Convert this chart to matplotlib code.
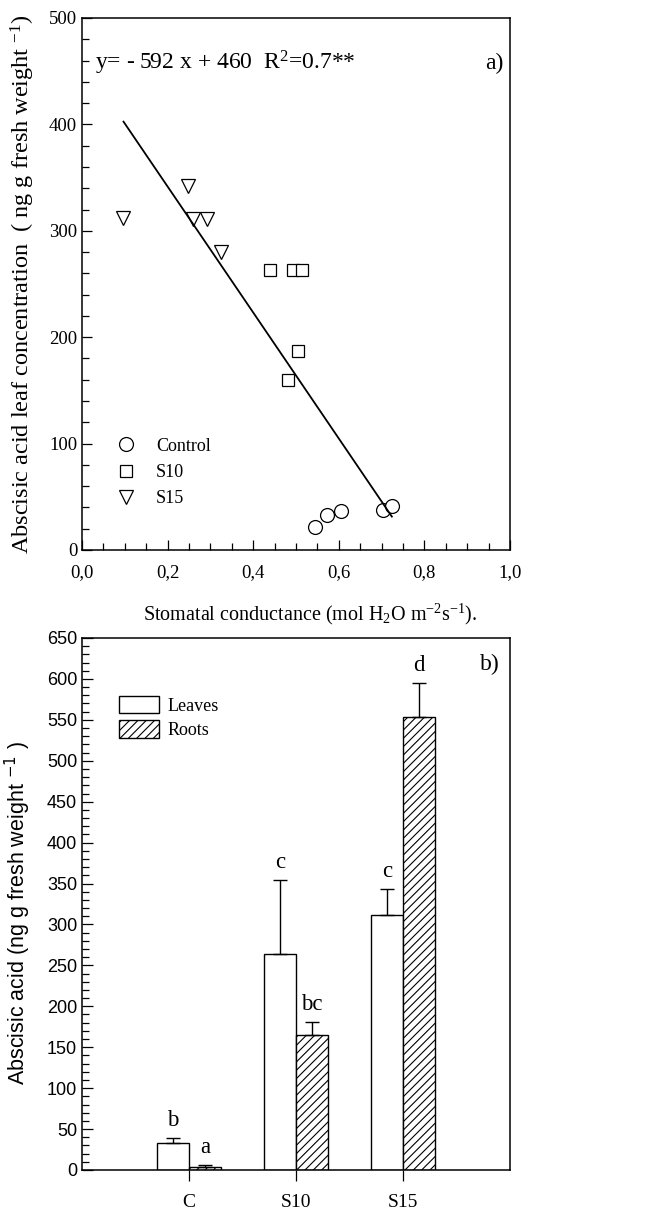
import numpy as np
import matplotlib
matplotlib.use("Agg")
import matplotlib.pyplot as plt
from matplotlib.ticker import MultipleLocator, FuncFormatter

# -----------------------------
# Data
# -----------------------------
# a) stomatal conductance vs leaf ABA
control_x = [0.544, 0.573, 0.604, 0.704, 0.725]
control_y = [22, 33, 37, 38, 41]
s10_x = [0.439, 0.492, 0.513, 0.505, 0.482]
s10_y = [263, 263, 263, 187, 160]
s15_x = [0.096, 0.247, 0.260, 0.291, 0.324]
s15_y = [312, 342, 311, 311, 280]

fit_slope = -592
fit_intercept = 460
fit_xrange = [0.097, 0.724]

# b) ABA in leaves and roots
groups = ["C", "S10", "S15"]
leaves_mean = [33, 264, 312]
leaves_err = [6, 90, 31]
roots_mean = [4, 165, 553]
roots_err = [2, 16, 42]
leaves_letters = ["b", "c", "c"]
roots_letters = ["a", "bc", "d"]

SERIF = "Liberation Serif"
SANS = "Liberation Sans"
plt.rcParams["mathtext.fontset"] = "custom"
plt.rcParams["mathtext.rm"] = SERIF
plt.rcParams["mathtext.it"] = SERIF + ":italic"
plt.rcParams["hatch.linewidth"] = 0.8

W, H = 651, 1210
fig = plt.figure(figsize=(W / 100, H / 100), dpi=100)


def box(l, t, r, b):
    return [l / W, 1 - b / H, (r - l) / W, (b - t) / H]


# -----------------------------
# Panel a
# -----------------------------
ax1 = fig.add_axes(box(82, 18, 510, 550))
mk = dict(linestyle="none", markerfacecolor="white", markeredgecolor="black",
          markeredgewidth=0.9)
ax1.plot(control_x, control_y, marker="o", markersize=10, label="Control", **mk)
ax1.plot(s10_x, s10_y, marker="s", markersize=9, label="S10", **mk)
ax1.plot(s15_x, s15_y, marker="v", markersize=10, label="S15", **mk)

fx = np.array(fit_xrange)
ax1.plot(fx, fit_slope * fx + fit_intercept, color="black", lw=1.3)

ax1.set_xlim(0, 1.0)
ax1.set_ylim(0, 500)
ax1.xaxis.set_major_locator(MultipleLocator(0.2))
ax1.xaxis.set_minor_locator(MultipleLocator(0.05))
ax1.yaxis.set_major_locator(MultipleLocator(100))
ax1.yaxis.set_minor_locator(MultipleLocator(20))
ax1.xaxis.set_major_formatter(FuncFormatter(lambda v, p: f"{v:.1f}".replace(".", ",")))
ax1.tick_params(which="both", direction="in", top=False, right=False, width=0.9)
ax1.tick_params(which="major", length=7)
ax1.tick_params(which="minor", length=5)
ax1.tick_params(axis="x", which="major", pad=10)
for lab in ax1.get_xticklabels() + ax1.get_yticklabels():
    lab.set_fontfamily(SERIF)
    lab.set_fontsize(13.5)
for s in ax1.spines.values():
    s.set_linewidth(1.1)

ax1.text(0.03, 0.915, "y= - 592 x + 460  R$^2$=0.7**", transform=ax1.transAxes,
         fontsize=17, family=SERIF, va="center", ha="left")
ax1.text(0.985, 0.915, "a)", transform=ax1.transAxes, fontsize=17, family=SERIF,
         va="center", ha="right")

ax1.legend(loc="center left", bbox_to_anchor=(0.05, 0.146), frameon=False,
           prop={"family": SERIF, "size": 13}, handlelength=1.5,
           handletextpad=0.9, labelspacing=0.5, borderpad=0)

fig.text(23 / W, 1 - 284 / H,
         "Abscisic acid leaf concentration  ( ng g fresh weight $^{-1}$)",
         rotation=90, ha="center", va="center", fontsize=17.5, family=SERIF)
fig.text(310 / W, 1 - 614 / H,
         "Stomatal conductance (mol H$_2$O m$^{-2}$s$^{-1}$).",
         ha="center", va="center", fontsize=14.5, family=SERIF)

# -----------------------------
# Panel b
# -----------------------------
ax2 = fig.add_axes(box(82, 638, 510, 1170))
xpos = np.arange(1, len(groups) + 1)
bw = 0.3
ek = dict(ecolor="black", elinewidth=1.0, capsize=5, capthick=1.0)
ax2.bar(xpos, leaves_mean, width=-bw, align="edge", color="white",
        edgecolor="black", linewidth=1.0, label="Leaves",
        yerr=[np.zeros(3), leaves_err], error_kw=ek)
ax2.bar(xpos, roots_mean, width=bw, align="edge", color="white",
        edgecolor="black", linewidth=1.0, hatch="////", label="Roots",
        yerr=[np.zeros(3), roots_err], error_kw=ek)

for i in range(len(groups)):
    ax2.annotate(leaves_letters[i], (xpos[i] - bw / 2, leaves_mean[i] + leaves_err[i]),
                 xytext=(0, 5), textcoords="offset points", ha="center", va="bottom",
                 fontsize=16.5, family=SERIF)
    ax2.annotate(roots_letters[i], (xpos[i] + bw / 2, roots_mean[i] + roots_err[i]),
                 xytext=(0, 5), textcoords="offset points", ha="center", va="bottom",
                 fontsize=16.5, family=SERIF)

ax2.set_xlim(0, 4)
ax2.set_ylim(0, 650)
ax2.set_xticks(xpos)
ax2.set_xticklabels(groups, family=SERIF, fontsize=14)
ax2.yaxis.set_major_locator(MultipleLocator(50))
ax2.yaxis.set_minor_locator(MultipleLocator(10))
ax2.tick_params(axis="y", which="both", direction="in", right=False, width=0.9)
ax2.tick_params(axis="y", which="major", length=8)
ax2.tick_params(axis="y", which="minor", length=5)
ax2.tick_params(axis="x", direction="out", length=8, width=0.9, pad=9, top=False)
for lab in ax2.get_yticklabels():
    lab.set_fontfamily(SANS)
    lab.set_fontsize(13)
for s in ax2.spines.values():
    s.set_linewidth(1.1)

ax2.text(0.975, 0.95, "b)", transform=ax2.transAxes, fontsize=17, family=SERIF,
         va="center", ha="right")
ax2.legend(loc="upper left", bbox_to_anchor=(0.065, 0.908), frameon=False,
           prop={"family": SERIF, "size": 13}, handlelength=2.2,
           handleheight=1.1, handletextpad=0.5, labelspacing=0.3, borderpad=0)

t = fig.text(18 / W, 1 - 913 / H, "Abscisic acid (ng g fresh weight $^{-1}$ )",
             rotation=90, ha="center", va="center", fontsize=15.5, family=SANS)
t.set_math_fontfamily("dejavusans")

fig.savefig("out.png", dpi=100)
